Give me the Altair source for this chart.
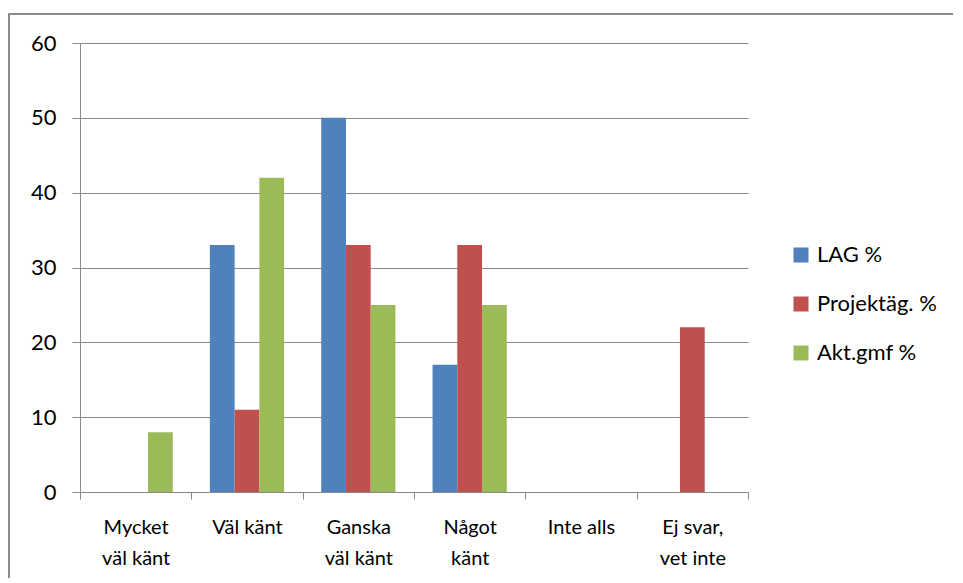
import altair as alt
import pandas as pd

categories = ["Mycket\nväl känt", "Väl känt", "Ganska\nväl känt", "Något\nkänt", "Inte alls", "Ej svar,\nvet inte"]
series = ["LAG %", "Projektäg. %", "Akt.gmf %"]
lag = [0, 33, 50, 17, 0, 0]
projekt = [0, 11, 33, 33, 0, 22]
akt = [8, 42, 25, 25, 0, 0]
colors = ["#4F81BD", "#C0504D", "#9BBB59"]
y_ticks = [0, 10, 20, 30, 40, 50, 60]

rows = []
for s, vals in zip(series, [lag, projekt, akt]):
    for c, v in zip(categories, vals):
        rows.append({"cat": c, "series": s, "value": v})
df = pd.DataFrame(rows)

FONT = "Lato"
GRID = "#8a8a8a"

bars = alt.Chart(df).mark_bar().encode(
    x=alt.X("cat:N", sort=categories,
            scale=alt.Scale(paddingInner=0, paddingOuter=0),
            axis=alt.Axis(title=None, labelAngle=0, labelExpr="split(datum.label, '\\n')",
                          labelFontSize=20, labelFont=FONT, labelColor="#000000",
                          labelLineHeight=31, labelPadding=18, labelBaseline="top",
                          tickBand="extent", tickSize=7, tickColor=GRID,
                          domainColor=GRID, grid=False)),
    xOffset=alt.XOffset("series:N", sort=series,
                        scale=alt.Scale(paddingInner=0, paddingOuter=0.75)),
    y=alt.Y("value:Q", scale=alt.Scale(domain=[0, 60], nice=False),
            axis=alt.Axis(title=None, values=y_ticks, labelFontSize=22, labelFont=FONT,
                          labelColor="#000000", tickSize=8, labelPadding=16,
                          tickColor=GRID, domainColor=GRID, gridColor=GRID)),
    color=alt.Color("series:N", sort=series,
                    scale=alt.Scale(domain=series, range=colors),
                    legend=alt.Legend(title=None, orient="none", legendX=710, legendY=201,
                                      symbolType="square", symbolSize=225,
                                      symbolStrokeWidth=0, labelFontSize=22, labelFont=FONT,
                                      labelColor="#000000", rowPadding=27, labelOffset=5)),
)

one = pd.DataFrame({"a": [0]})
frame_top = alt.Chart(one).mark_rule(stroke="#8c8c8c", strokeWidth=2).encode(
    x=alt.value(-72), x2=alt.value(900), y=alt.value(-29)
)
frame_left = alt.Chart(one).mark_rule(stroke="#8c8c8c", strokeWidth=2).encode(
    x=alt.value(-71), y=alt.value(-30), y2=alt.value(560)
)

chart = alt.layer(frame_top, frame_left, bars).properties(
    width=668, height=449,
    autosize=alt.AutoSizeParams(type="none"),
    padding={"left": 72, "top": 35, "right": 205, "bottom": 86},
).configure_view(stroke=None)

chart.save("out.html", embed_options={"renderer": "svg", "actions": False})
